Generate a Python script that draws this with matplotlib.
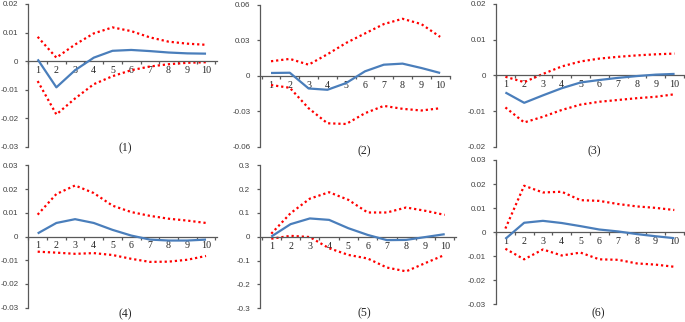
import matplotlib
matplotlib.use("Agg")
import matplotlib.pyplot as plt
import numpy as np

periods = list(range(1, 11))
x_labels = [str(p) for p in periods]
panel_names = ["(1)", "(2)", "(3)", "(4)", "(5)", "(6)"]

irf1 = [0.0006, -0.0092, -0.0032, 0.0012, 0.0036, 0.0039, 0.0035, 0.0030, 0.0027, 0.0026]
up1 = [0.0085, 0.0012, 0.0058, 0.0097, 0.0118, 0.0105, 0.0083, 0.0068, 0.0061, 0.0057]
lo1 = [-0.0070, -0.0187, -0.0131, -0.0081, -0.0053, -0.0032, -0.0019, -0.0011, -0.0006, -0.0004]

irf2 = [0.0023, 0.0025, -0.0108, -0.0119, -0.0062, 0.0037, 0.0093, 0.0102, 0.0065, 0.0023]
up2 = [0.0122, 0.0142, 0.0093, 0.0181, 0.0277, 0.0357, 0.0436, 0.0481, 0.0436, 0.0328]
lo2 = [-0.0079, -0.0102, -0.0275, -0.0402, -0.0408, -0.0317, -0.0255, -0.0280, -0.0294, -0.0275]

irf3 = [-0.0048, -0.0077, -0.0056, -0.0036, -0.0020, -0.0013, -0.0007, -0.0002, 0.0002, 0.0004]
up3 = [-0.0004, -0.0019, 0.0004, 0.0025, 0.0039, 0.0047, 0.0052, 0.0056, 0.0059, 0.0061]
lo3 = [-0.0090, -0.0132, -0.0116, -0.0097, -0.0082, -0.0074, -0.0069, -0.0064, -0.0060, -0.0053]

irf4 = [0.0013, 0.0057, 0.0073, 0.0057, 0.0028, 0.0004, -0.0013, -0.0017, -0.0017, -0.0013]
up4 = [0.0092, 0.0179, 0.0215, 0.0183, 0.0130, 0.0103, 0.0087, 0.0075, 0.0067, 0.0057]
lo4 = [-0.0064, -0.0068, -0.0073, -0.0070, -0.0078, -0.0094, -0.0107, -0.0106, -0.0098, -0.0082]

irf5 = [0.001, 0.053, 0.077, 0.071, 0.036, 0.008, -0.014, -0.013, -0.001, 0.011]
up5 = [0.013, 0.099, 0.160, 0.187, 0.155, 0.102, 0.102, 0.123, 0.109, 0.092]
lo5 = [-0.008, 0.004, -0.001, -0.048, -0.076, -0.091, -0.129, -0.145, -0.110, -0.076]

irf6 = [-0.0028, 0.0039, 0.0047, 0.0038, 0.0025, 0.0011, 0.0003, -0.0008, -0.0017, -0.0025]
up6 = [0.0015, 0.0193, 0.0165, 0.0168, 0.0133, 0.0130, 0.0117, 0.0107, 0.0101, 0.0092]
lo6 = [-0.0069, -0.0113, -0.0072, -0.0097, -0.0085, -0.0113, -0.0115, -0.0130, -0.0135, -0.0144]

yticks1 = [-0.03, -0.02, -0.01, 0, 0.01, 0.02]
ylabels1 = ["-0.03", "-0.02", "-0.01", "0", "0.01", "0.02"]
yticks2 = [-0.06, -0.03, 0, 0.03, 0.06]
ylabels2 = ["-0.06", "-0.03", "0", "0.03", "0.06"]
yticks3 = [-0.02, -0.01, 0, 0.01, 0.02]
ylabels3 = ["-0.02", "-0.01", "0", "0.01", "0.02"]
yticks4 = [-0.03, -0.02, -0.01, 0, 0.01, 0.02, 0.03]
ylabels4 = ["-0.03", "-0.02", "-0.01", "0", "0.01", "0.02", "0.03"]
yticks5 = [-0.3, -0.2, -0.1, 0, 0.1, 0.2, 0.3]
ylabels5 = ["-0.3", "-0.2", "-0.1", "0", "0.1", "0.2", "0.3"]
yticks6 = yticks4
ylabels6 = ylabels4

W, H = 685, 322
fig = plt.figure(figsize=(W / 100, H / 100), dpi=100)

# layout in pixels: left, right, top, bottom, xlim, label position
layout = [
    (28.3, 216.7, 4.0, 146.7, (0.5, 10.57), (125, 148.5)),
    (260.3, 450.5, 4.7, 146.7, (0.43, 10.55), (364.7, 151.5)),
    (496.0, 684.0, 4.0, 146.7, (0.5, 10.5), (594.3, 151.5)),
    (28.3, 216.7, 165.3, 307.7, (0.5, 10.57), (125, 314)),
    (260.3, 455.7, 165.3, 308.3, (0.43, 10.57), (364.7, 313)),
    (496.0, 683.7, 160.0, 304.3, (0.5, 10.5), (598.7, 313)),
]

series = [
    (irf1, up1, lo1, yticks1, ylabels1),
    (irf2, up2, lo2, yticks2, ylabels2),
    (irf3, up3, lo3, yticks3, ylabels3),
    (irf4, up4, lo4, yticks4, ylabels4),
    (irf5, up5, lo5, yticks5, ylabels5),
    (irf6, up6, lo6, yticks6, ylabels6),
]

axis_col = "#595959"
blue = "#4A7EBB"
red = "#FF0000"

for (l, r, t, b, xl, lab), (irf, up, lo, yt, yl), name in zip(layout, series, panel_names):
    ax = fig.add_axes([l / W, 1 - b / H, (r - l) / W, (b - t) / H])
    ax.set_facecolor("none")
    ax.plot(periods, up, color=red, lw=1.6, linestyle=(0, (1, 1.3)), dash_capstyle="butt", clip_on=False)
    ax.plot(periods, lo, color=red, lw=1.6, linestyle=(0, (1, 1.3)), dash_capstyle="butt", clip_on=False)
    ax.plot(periods, irf, color=blue, lw=1.6, solid_capstyle="butt", clip_on=False, zorder=3)
    ax.set_xlim(*xl)
    ax.set_ylim(yt[0], yt[-1])
    for s in ("top", "right"):
        ax.spines[s].set_visible(False)
    ax.spines["bottom"].set_position(("data", 0))
    ax.spines["bottom"].set_bounds(xl[0], xl[1])
    for s in ("left", "bottom"):
        ax.spines[s].set_color(axis_col)
        ax.spines[s].set_linewidth(0.9)
    ax.set_yticks(yt)
    ax.set_yticklabels(yl, family="Liberation Sans", fontsize=5.8, color="#404040")
    ax.tick_params(axis="y", direction="out", length=2.2, width=0.9, color=axis_col, pad=5)
    ax.set_xticks(periods)
    ax.set_xticklabels(x_labels, family="Liberation Serif", fontsize=7.2, color="#262626")
    ax.tick_params(axis="x", which="major", length=0, pad=3.5)
    ax.set_xticks(np.arange(0.5, 11, 1.0), minor=True)
    ax.tick_params(axis="x", which="minor", direction="out", length=1.8, width=0.9, color=axis_col)
    fig.text(lab[0] / W, 1 - lab[1] / H, name, family="Liberation Serif", fontsize=8.5,
             ha="center", va="center", color="#262626")

fig.savefig("out.png", dpi=100)
